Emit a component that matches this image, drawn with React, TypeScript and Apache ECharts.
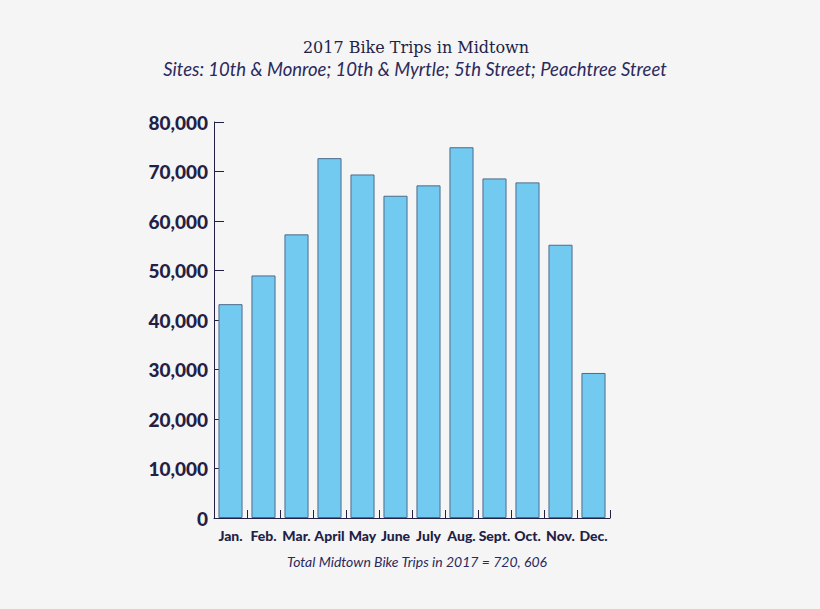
import React, { useEffect, useRef } from "react";
import * as echarts from "echarts";

const months = ["Jan.", "Feb.", "Mar.", "April", "May", "June", "July", "Aug.", "Sept.", "Oct.", "Nov.", "Dec."];
const trips = [43200, 49000, 57300, 72700, 69400, 65100, 67200, 74900, 68600, 67800, 55200, 29300];
const titleText = "2017 Bike Trips in Midtown";
const subtitleText = "Sites: 10th & Monroe; 10th & Myrtle; 5th Street; Peachtree Street";
const footerText = "Total Midtown Bike Trips in 2017 = 720, 606";

const NAVY = "#231f45";

export default function App() {
  const ref = useRef<HTMLDivElement>(null);
  useEffect(() => {
    document.body.style.margin = "0";
    const chart = echarts.init(ref.current!, null, { renderer: "svg" });
    chart.setOption({
      animation: false,
      backgroundColor: "#f5f5f6",
      grid: { left: 214, right: 210, top: 122, bottom: 91, containLabel: false },
      graphic: [
        {
          type: "text",
          x: 416,
          y: 47,
          style: {
            text: titleText,
            fill: NAVY,
            font: "16px 'DejaVu Serif'",
            textAlign: "center",
            textVerticalAlign: "middle",
          },
        },
        {
          type: "text",
          x: 415,
          y: 69,
          style: {
            text: subtitleText,
            fill: "#2b2a5c",
            font: "italic 18.5px Lato",
            textAlign: "center",
            textVerticalAlign: "middle",
          },
        },
        {
          type: "text",
          x: 417,
          y: 561,
          style: {
            text: footerText,
            fill: "#2b2a5c",
            font: "italic 14px Lato",
            textAlign: "center",
            textVerticalAlign: "middle",
          },
        },
      ],
      xAxis: {
        type: "category",
        data: months,
        boundaryGap: true,
        axisLine: { show: true, lineStyle: { color: NAVY, width: 1 } },
        axisTick: { show: true, inside: true, length: 8, lineStyle: { color: NAVY } },
        axisLabel: {
          color: NAVY,
          fontFamily: "Lato",
          fontWeight: 900,
          fontSize: 14,
          margin: 10,
          interval: 0,
        },
      },
      yAxis: {
        type: "value",
        min: 0,
        max: 80000,
        interval: 10000,
        axisLine: { show: true, lineStyle: { color: NAVY, width: 1 } },
        axisTick: { show: true, inside: true, length: 10, lineStyle: { color: NAVY } },
        splitLine: { show: false },
        axisLabel: {
          color: NAVY,
          fontFamily: "Lato",
          fontWeight: 900,
          fontSize: 19,
          margin: 6,
          formatter: (v: number) => v.toLocaleString("en-US"),
        },
      },
      series: [
        {
          type: "bar",
          data: trips,
          barCategoryGap: "27%",
          itemStyle: { color: "#72caf0", borderColor: "#4d6b8c", borderWidth: 1 },
        },
      ],
    });
    return () => chart.dispose();
  }, []);
  return <div ref={ref} style={{ width: 820, height: 609 }} />;
}
